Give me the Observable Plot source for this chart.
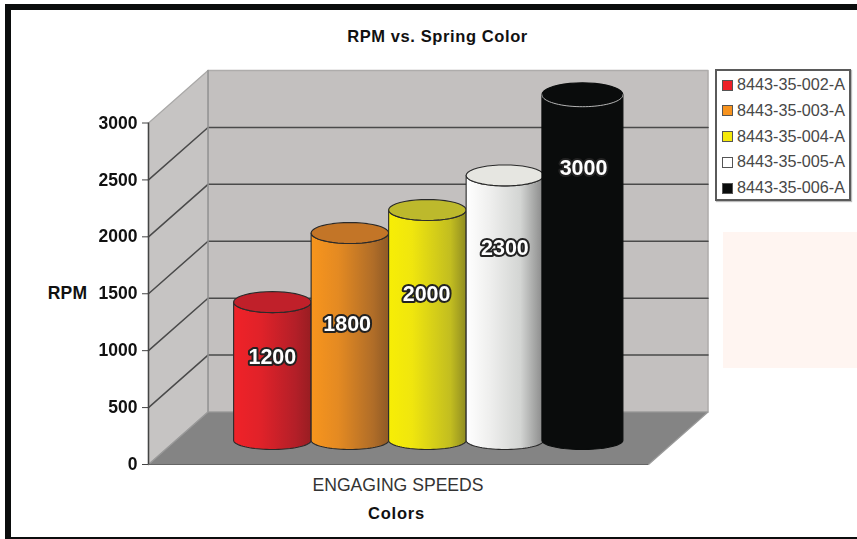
<!DOCTYPE html>
<html>
<head>
<meta charset="utf-8">
<script src="https://cdn.jsdelivr.net/npm/d3@7"></script>
<script src="https://cdn.jsdelivr.net/npm/@observablehq/plot@0.6"></script>
<style>
  html, body { margin: 0; padding: 0; background: #fff; }
  body { width: 857px; height: 539px; position: relative; overflow: hidden; font-family: "Liberation Sans", Arial, sans-serif; }
  #chart { position: absolute; left: 0; top: 0; }
  #chart svg { display: block; filter: blur(0.35px); background: transparent; }
  .edge { position: absolute; background: #0b0d0d; }
  .lbl { position: absolute; transform: translate(-50%, -50%); white-space: nowrap; color: #111; }
  .b { font-weight: bold; }
  #legend { position: absolute; left: 715px; top: 69px; width: 132px; height: 128px; border: 2px solid #5a5a5a; background: #fff; box-shadow: 1px 1px 1px #bbb; }
  .row { position: absolute; left: 5px; height: 20px; line-height: 20px; font-size: 16.2px; color: #484848; white-space: nowrap; }
  .sw { display: inline-block; width: 9px; height: 9px; border: 1px solid #555; margin-right: 4px; vertical-align: -0.5px; }
</style>
</head>
<body>
<div class="edge" style="left:5px;top:4px;width:852px;height:6px"></div>
<div class="edge" style="left:5px;top:4px;width:6px;height:535px"></div>
<div class="edge" style="left:5px;top:536.5px;width:852px;height:3px"></div>
<div style="position:absolute;left:722.5px;top:231.5px;width:135px;height:136px;background:#fff5f1"></div>
<div id="chart"></div>
<div class="lbl b" style="left:437.5px;top:36px;font-size:16.5px;letter-spacing:.6px">RPM vs. Spring Color</div>
<div class="lbl b" style="left:67.5px;top:293px;font-size:17.5px;letter-spacing:.2px">RPM</div>
<div class="lbl" style="left:398px;top:484.5px;font-size:17.6px;color:#333">ENGAGING SPEEDS</div>
<div class="lbl b" style="left:396.5px;top:513px;font-size:16.5px;letter-spacing:.8px">Colors</div>
<div id="legend"></div>
<script>
// ---- data ----
const series = ["8443-35-002-A", "8443-35-003-A", "8443-35-004-A", "8443-35-005-A", "8443-35-006-A"];
const rpm = [1200, 1800, 2000, 2300, 3000];
const yTicks = [0, 500, 1000, 1500, 2000, 2500, 3000];
const gridTicks = [500, 1000, 1500, 2000, 2500];

// ---- styles ----
const swatchColors = ["#ed2027", "#f7931e", "#f5e90a", "#ffffff", "#0a0c0c"];
const topColors = ["#c0202a", "#c37527", "#bdb92c", "#e6e6e1", "#0a0c0c"];
const gradients = [
  [[0, "#f02228"], [.35, "#e02229"], [.8, "#b31f28"], [1, "#981d22"]],
  [[0, "#f8951d"], [.35, "#e48a22"], [.8, "#b06d28"], [1, "#8f5a26"]],
  [[0, "#f7ee05"], [.3, "#f0e60e"], [.8, "#c2bd20"], [1, "#8f8c22"]],
  [[0, "#ffffff"], [.3, "#efefee"], [.7, "#d3d5d3"], [1, "#888888"]],
  [[0, "#0a0c0c"], [1, "#0a0c0c"]]
];

// ---- 3D layout, in scale units (x in bar slots, y in RPM) ----
const depthX = 0.768, depthY = 461;     // one full step into the chart
const barDepth = 0.46;                  // cylinders stand mid-floor
const leftEdge = -1.245, rightEdge = 5.206;
const widthSlots = [1, 1, 1, 1, 1.045];
const ryTop = [92, 92, 92, 92, 105];
const ryBase = 80;
const rise = 1.012;
const labelDrop = [485, 800, 735, 640, 640];
const labelShift = [0, -0.035, -0.01, 0, 0.015];

const at = (x, v, d) => ({x: x + d * depthX, y: v + d * depthY});
const backWall = [at(leftEdge, 0, 1), at(rightEdge, 0, 1), at(rightEdge, 3000, 1), at(leftEdge, 3000, 1), at(leftEdge, 0, 1)];
const sideWall = [at(leftEdge, 0, 0), at(leftEdge, 0, 1), at(leftEdge, 3000, 1), at(leftEdge, 3000, 0), at(leftEdge, 0, 0)];
const floor = [at(leftEdge, 0, 0), at(leftEdge, 0, 1), at(rightEdge, 0, 1), at(rightEdge, 0, 0), at(leftEdge, 0, 0)];
const gridLines = gridTicks.map(t => [at(leftEdge, t, 0), at(leftEdge, t, 1), at(rightEdge, t, 1)]);

const steps = d3.range(0, 41).map(k => k / 40);
const arc = (cx, cy, rx, ry, a0, a1) => steps.map(s => {
  const a = a0 + (a1 - a0) * s;
  return {x: cx + rx * Math.cos(a), y: cy + ry * Math.sin(a)};
});
const cylinders = rpm.map((v, i) => {
  const c = at(i, 0, barDepth);
  const rx = widthSlots[i] / 2, top = c.y + v * rise;
  return {
    i,
    body: [{x: c.x - rx, y: top}, ...arc(c.x, c.y, rx, ryBase, Math.PI, 2 * Math.PI), {x: c.x + rx, y: top}, ...arc(c.x, top, rx, ryTop[i], 2 * Math.PI, Math.PI)],
    cap: arc(c.x, top, rx, ryTop[i], 0, 2 * Math.PI),
    rim: arc(c.x, top, rx, ryTop[i], Math.PI, 2 * Math.PI),
    label: {x: c.x + labelShift[i], y: top - labelDrop[i], text: String(v)}
  };
});

const defs = () => {
  const d = d3.create("svg:defs");
  gradients.forEach((stops, i) => {
    const g = d.append("linearGradient").attr("id", "cyl" + i).attr("x1", 0).attr("x2", 1).attr("y1", 0).attr("y2", 0);
    stops.forEach(([o, c]) => g.append("stop").attr("offset", o).attr("stop-color", c));
  });
  return d.node();
};

const xy = {x: "x", y: "y"};
const plot = Plot.plot({
  width: 857, height: 539,
  marginLeft: 148, marginRight: 209, marginTop: 122.5, marginBottom: 75,
  style: {background: "transparent", fontFamily: "'Liberation Sans', Arial, sans-serif"},
  x: {domain: [leftEdge, rightEdge], axis: null},
  y: {domain: [0, 3000], axis: null},
  marks: [
    defs,
    Plot.line(backWall, {...xy, fill: "#c3c0bf", stroke: "#aeacab", strokeWidth: 1.5}),
    Plot.line(sideWall, {...xy, fill: "#c6c4c3", stroke: "#a9a8a7", strokeWidth: 1.2}),
    ...gridLines.map(g => Plot.line(g, {...xy, stroke: "#4a4a4a", strokeWidth: 1.5, strokeLinejoin: "miter"})),
    Plot.line([at(leftEdge, 0, 1), at(leftEdge, 3000, 1)], {...xy, stroke: "#979797", strokeWidth: 1.5}),
    Plot.line(floor, {...xy, fill: "#848484", stroke: "#9a9a9a", strokeWidth: 1.2}),
    Plot.ruleX([leftEdge], {y1: 0, y2: 3000, stroke: "#444", strokeWidth: 1.5}),
    Plot.ruleY([0], {x1: leftEdge, x2: rightEdge, stroke: "#666", strokeWidth: 1.2}),
    ...cylinders.flatMap(c => [
      Plot.line(c.body, {...xy, fill: `url(#cyl${c.i})`, stroke: c.i === 4 ? "#0a0c0c" : "#2a2a2a", strokeWidth: 1.1}),
      Plot.line(c.cap, {...xy, fill: topColors[c.i], stroke: c.i === 4 ? "#0a0c0c" : "#2a2a2a", strokeWidth: 1.1}),
      ...(c.i === 4 ? [Plot.line(c.rim, {...xy, stroke: "#b5b5b5", strokeWidth: 1})] : [])
    ]),
    Plot.text(cylinders.map(c => c.label), {
      x: "x", y: "y", text: "text", fill: "#fff", stroke: "#222", strokeWidth: 4,
      fontWeight: "bold", fontSize: 21.5, paintOrder: "stroke", strokeLinejoin: "round"
    }),
    Plot.axisY({ticks: yTicks, tickFormat: d => String(d), label: null, tickSize: 6, tickPadding: 5, fontSize: 17.5, fontWeight: "bold", stroke: "#444", color: "#111"})
  ]
});
document.getElementById("chart").appendChild(plot);

const legend = document.getElementById("legend");
series.forEach((name, i) => {
  const row = document.createElement("div");
  row.className = "row";
  row.style.top = (3 + i * 25.8) + "px";
  const sw = document.createElement("span");
  sw.className = "sw";
  sw.style.background = swatchColors[i];
  row.appendChild(sw);
  row.appendChild(document.createTextNode(name));
  legend.appendChild(row);
});
</script>
</body>
</html>
